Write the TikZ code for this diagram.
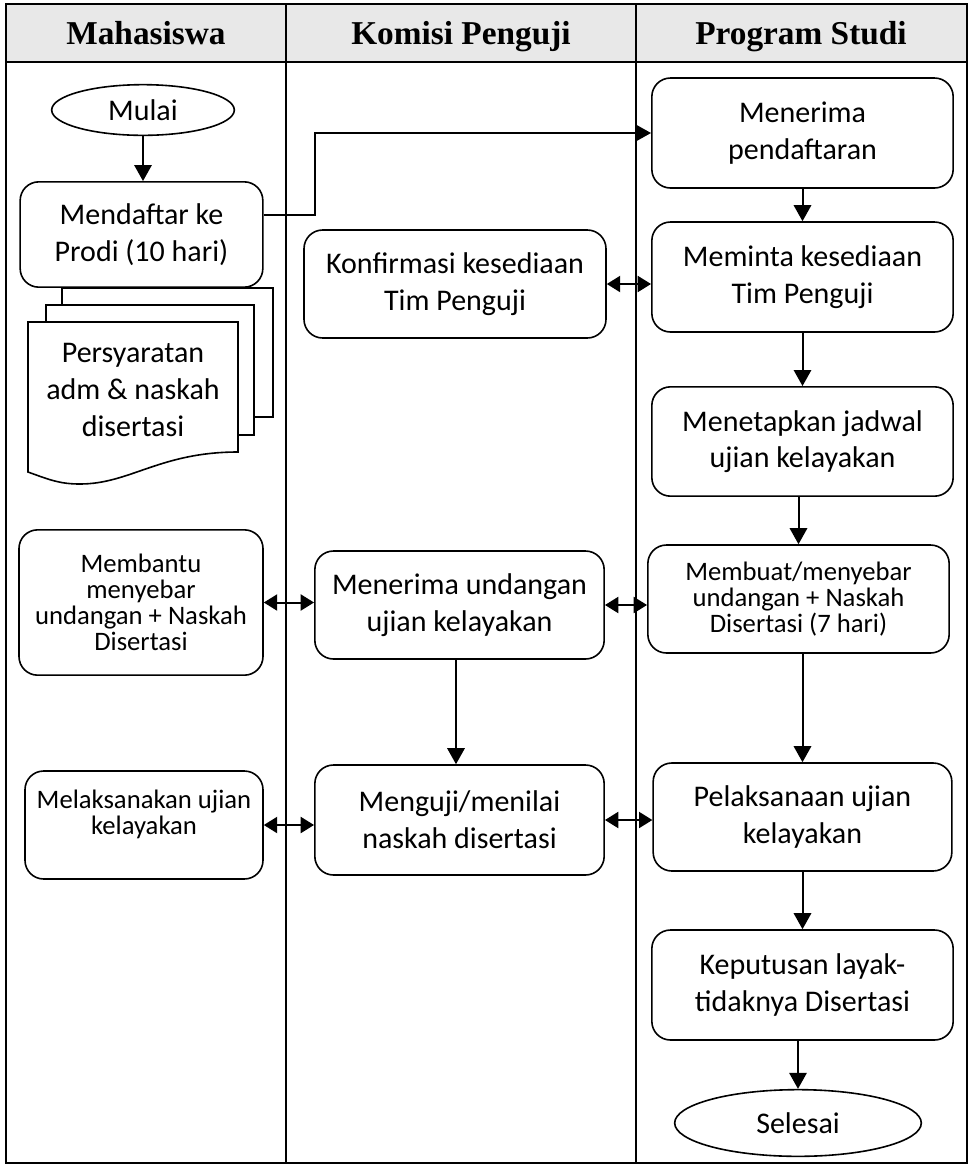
\documentclass[tikz,border=0pt]{standalone}
\usepackage{fontspec}
\setmainfont{Carlito}
\newfontfamily\headfont{Liberation Serif}
\usetikzlibrary{arrows.meta,positioning,shapes.geometric,calc}
\tikzset{
  fbox/.style={draw, rounded corners=14pt, line width=1.2pt, align=center, fill=white, minimum width=226pt, minimum height=82pt, inner sep=3pt, font=\fontsize{22.5}{27.5}\selectfont},
  fsmall/.style={fbox, font=\fontsize{20}{19.5}\selectfont},
  fterm/.style={draw, ellipse, line width=1.2pt, fill=white, inner sep=0pt, font=\fontsize{22.5}{27.5}\selectfont},
  fhead/.style={anchor=base, font=\headfont\bfseries\fontsize{25}{30}\selectfont},
  fdoctext/.style={align=center, font=\fontsize{22.5}{27.5}\selectfont},
  fpage/.style={draw, line width=1.2pt, fill=white},
  farrow/.style={-{Triangle[length=12pt,width=13pt]}, line width=1.5pt},
  fdual/.style={{Triangle[length=10pt,width=12pt]}-{Triangle[length=10pt,width=12pt]}, line width=1.5pt},
  flane/.style={line width=1.2pt},
  fframe/.style={line width=2.2pt}
}

\begin{document}
\begin{tikzpicture}[x=0.75pt,y=-0.75pt]
\useasboundingbox (0,0) rectangle (972,1165);

% lanes
\fill[gray!18] (6,4) rectangle (967,62);
\draw[flane] (286,4) -- (286,1163);
\draw[flane] (636,4) -- (636,1163);
\draw[fframe] (6,62) -- (967,62);
\draw[fframe] (6,4) rectangle (967,1163);
\node[fhead] (hmhs) at (146,44) {Mahasiswa};
\node[fhead] (hkom) at (461,44) {Komisi Penguji};
\node[fhead] (hprodi) at (801,44) {Program Studi};

% document stack
\draw[fpage] (62,288) rectangle (273,417);
\draw[fpage] (46,305) rectangle (254,435);
\draw[fpage] (28,322) -- (238,322) -- (238,452)
  .. controls (160,452) and (130,484) .. (80,484)
  .. controls (60,484) and (50,480) .. (28,472) -- cycle;
\node[fdoctext] (syarat) at (133,390) {Persyaratan\\adm \& naskah\\disertasi};

% Mahasiswa
\node[fterm, minimum width=137pt, minimum height=38pt] (mulai) at (143,110) {Mulai};
\node[fbox, minimum width=182pt, minimum height=79pt] (daftar) at (141.5,234.5) {Mendaftar ke\\Prodi (10 hari)};
\node[fsmall, minimum width=183pt, minimum height=109pt] (bantu) at (141,602.5) {Membantu\\menyebar\\undangan + Naskah\\Disertasi};
\node[fsmall, minimum width=178.5pt, minimum height=81pt] (laksmhs) at (144,825) {Melaksanakan ujian\\kelayakan\\\mbox{}};

% Komisi Penguji
\node[fbox, minimum width=226.5pt, minimum height=81pt] (konfirm) at (455,284) {Konfirmasi kesediaan\\Tim Penguji};
\node[fbox, minimum width=217pt, minimum height=81pt] (undangan) at (459.5,605) {Menerima undangan\\ujian kelayakan};
\node[fbox, minimum width=217pt, minimum height=82.5pt] (uji) at (459.5,820) {Menguji/menilai\\naskah disertasi};

% Program Studi
\node[fbox, minimum height=82.5pt] (terima) at (802.5,133) {Menerima\\pendaftaran};
\node[fbox, minimum height=82.5pt] (minta) at (802.5,277) {Meminta kesediaan\\Tim Penguji};
\node[fbox] (tetap) at (802.5,441.5) {Menetapkan jadwal\\ujian kelayakan};
\node[fsmall, minimum width=226pt, minimum height=81pt] (buat) at (798.5,599) {Membuat/menyebar\\undangan + Naskah\\Disertasi (7 hari)};
\node[fbox, minimum width=224pt, minimum height=81pt] (laksana) at (802.5,817) {Pelaksanaan ujian\\kelayakan};
\node[fbox, minimum height=82.5pt] (putus) at (802.5,985) {Keputusan layak-\\tidaknya Disertasi};
\node[fterm, minimum width=185pt, minimum height=50pt] (selesai) at (798,1123) {Selesai};

% connectors
\draw[farrow] (mulai.south) -- (mulai.south |- daftar.north);
\draw[farrow] ([yshift=14.6pt]daftar.east) -- ++(51,0) |- (terima.west);
\draw[farrow] (terima.south) -- (minta.north);
\draw[farrow] (minta.south) -- (tetap.north);
\draw[farrow] (buat.north |- tetap.south) -- (buat.north);
\draw[farrow] (laksana.north |- buat.south) -- (laksana.north);
\draw[farrow] (laksana.south) -- (putus.north);
\draw[farrow] (selesai.north |- putus.south) -- (selesai.north);
\draw[farrow] (undangan.south -| 456,0) -- (uji.north -| 456,0);

\draw[fdual] (konfirm.east) -- (konfirm.east -| minta.west);
\draw[fdual] (bantu.east) -- (bantu.east -| undangan.west);
\draw[fdual] (undangan.east) -- (undangan.east -| buat.west);
\draw[fdual] (laksmhs.east) -- (laksmhs.east -| uji.west);
\draw[fdual] (uji.east) -- (uji.east -| laksana.west);
\end{tikzpicture}
\end{document}
